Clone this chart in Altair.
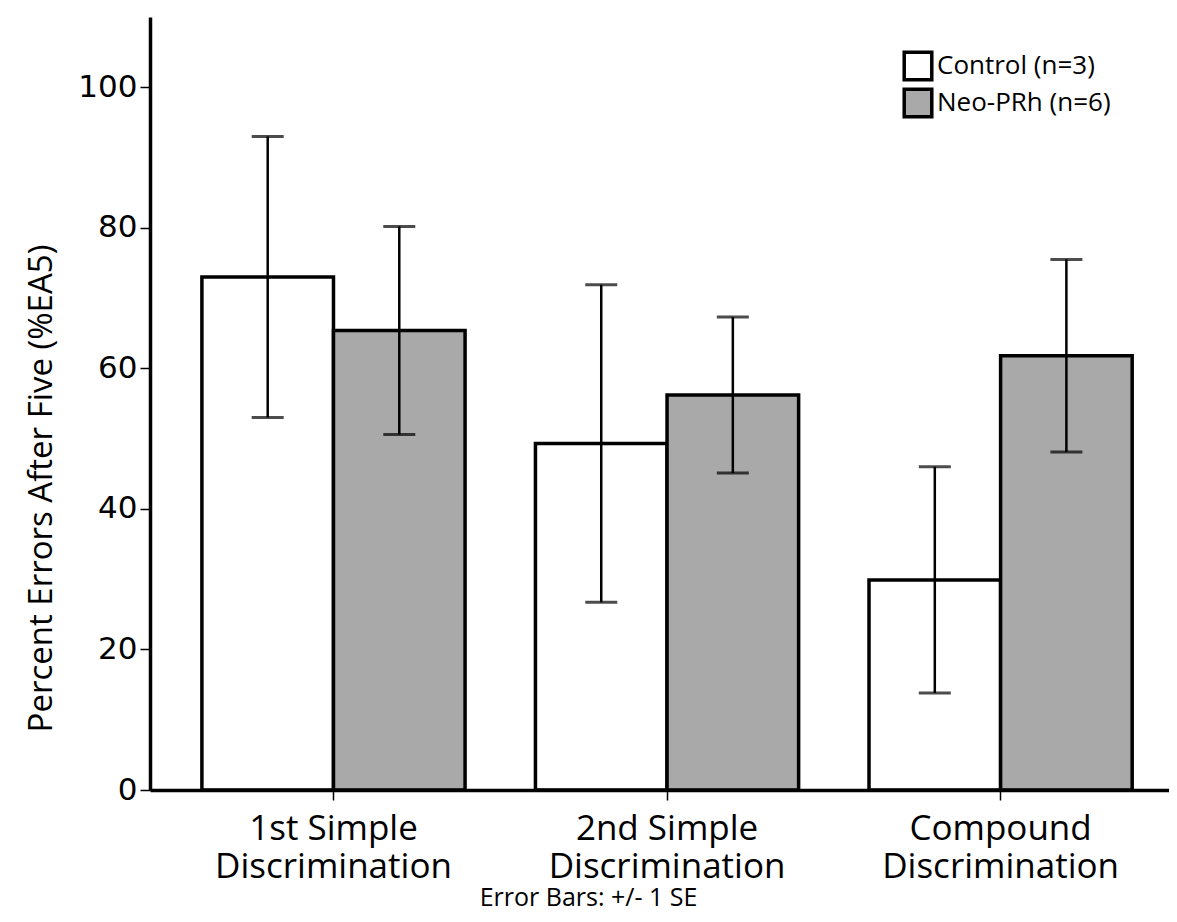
import altair as alt
import pandas as pd

categories = ["1st Simple|Discrimination", "2nd Simple|Discrimination", "Compound|Discrimination"]
groups = ["Control (n=3)", "Neo-PRh (n=6)"]
control_mean = [73.0, 49.3, 29.9]
control_se = [20.0, 22.6, 16.1]
neo_mean = [65.4, 56.2, 61.8]
neo_se = [14.8, 11.1, 13.7]
y_ticks = [0, 20, 40, 60, 80, 100]

rows = []
for i, c in enumerate(categories):
    rows.append({"cat": c, "group": groups[0], "mean": control_mean[i],
                 "lo": control_mean[i] - control_se[i], "hi": control_mean[i] + control_se[i]})
    rows.append({"cat": c, "group": groups[1], "mean": neo_mean[i],
                 "lo": neo_mean[i] - neo_se[i], "hi": neo_mean[i] + neo_se[i]})
df = pd.DataFrame(rows)

FONT = "Open Sans"

xenc = alt.X("cat:N", sort=categories,
             scale=alt.Scale(paddingInner=0.211, paddingOuter=0.133, align=0.585),
             axis=alt.Axis(title="Error Bars: +/- 1 SE", labelAngle=0,
                           labelExpr="split(datum.label, '|')",
                           labelFont=FONT, labelFontSize=35, labelLineHeight=38,
                           labelColor="black", labelPadding=11, labelLimit=0,
                           tickSize=10, tickColor="black", tickWidth=1.5,
                           domainColor="black", domainWidth=3.5,
                           titleFont=FONT, titleFontSize=25, titleFontWeight="normal",
                           titleColor="black", titleX=438, titleY=115,
                           titleBaseline="alphabetic", titleAnchor="middle",
                           titleAlign="center", zindex=1))
xoff = alt.XOffset("group:N", sort=groups, scale=alt.Scale(paddingInner=0, paddingOuter=0))

bars = alt.Chart(df).mark_bar(stroke="black", strokeWidth=3.5).encode(
    x=xenc,
    xOffset=xoff,
    y=alt.Y("mean:Q", scale=alt.Scale(domain=[0, 110], nice=False),
            axis=alt.Axis(title="Percent Errors After Five (%EA5)", values=y_ticks,
                          grid=False, labelFont="DejaVu Sans", labelFontSize=31,
                          labelColor="black", labelPadding=3,
                          tickSize=10, tickColor="black", tickWidth=1.5,
                          domainColor="black", domainWidth=3.5,
                          titleFont=FONT, titleFontSize=33, titleFontWeight="normal",
                          titleColor="black", titleX=-99, titleY=471,
                          titleAngle=270, titleAlign="center",
                          titleBaseline="alphabetic", zindex=1)),
    fill=alt.Fill("group:N", sort=groups,
                  scale=alt.Scale(domain=groups, range=["#ffffff", "#a9a9a9"]),
                  legend=alt.Legend(title=None, orient="none", legendX=752, legendY=33,
                                    symbolType="square", symbolSize=760,
                                    symbolStrokeColor="black", symbolStrokeWidth=3.5,
                                    symbolOpacity=1, labelFont=FONT, labelFontSize=26,
                                    labelColor="black", labelOffset=3, rowPadding=-7,
                                    labelLimit=0, padding=0)),
)

rules = alt.Chart(df).mark_rule(color="black", strokeWidth=2.5).encode(
    x=alt.X("cat:N", sort=categories),
    xOffset=alt.XOffset("group:N", sort=groups),
    y="lo:Q",
    y2="hi:Q",
)

caps_lo = alt.Chart(df).mark_tick(color="black", size=32, thickness=3, orient="horizontal").encode(
    x=alt.X("cat:N", sort=categories),
    xOffset=alt.XOffset("group:N", sort=groups),
    y="lo:Q",
)
caps_hi = alt.Chart(df).mark_tick(color="black", size=32, thickness=3, orient="horizontal").encode(
    x=alt.X("cat:N", sort=categories),
    xOffset=alt.XOffset("group:N", sort=groups),
    y="hi:Q",
)

chart = alt.layer(bars, rules, caps_lo, caps_hi).properties(
    width=1019, height=773,
    autosize=alt.AutoSizeParams(type="none"),
    padding={"left": 142, "top": 9, "right": 0, "bottom": 130},
    background="white",
).configure_view(stroke=None, strokeWidth=0)

chart.save("out.html", embed_options={"renderer": "svg", "actions": False})
